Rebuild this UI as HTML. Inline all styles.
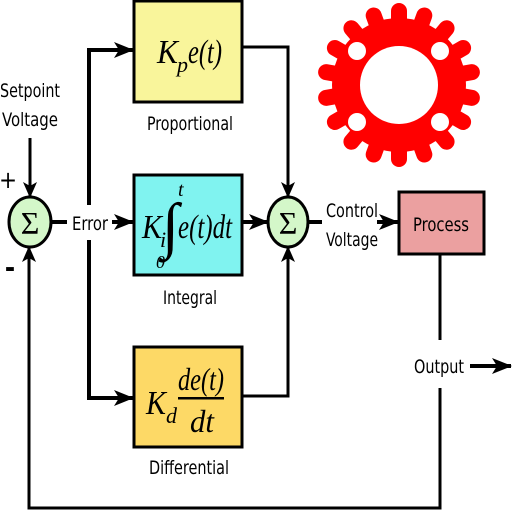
<!DOCTYPE html>
<html><head><meta charset="utf-8"><style>
html,body{margin:0;padding:0;background:#fff;}
svg{display:block;}
.l text{font-family:"DejaVu Sans Condensed","DejaVu Sans","Liberation Sans",sans-serif;font-stretch:condensed;font-size:19px;}
.m text{font-family:"Liberation Serif","DejaVu Serif",serif;font-style:italic;}
</style></head><body>
<svg width="512" height="512" viewBox="0 0 512 512" xmlns="http://www.w3.org/2000/svg">
<defs>
<marker id="a" markerWidth="20" markerHeight="16" refX="19" refY="8" orient="auto" markerUnits="userSpaceOnUse" viewBox="0 0 20 16"><path d="M0,0 L20,8 L0,16 L5,8z" fill="#000"/></marker>
<marker id="b" markerWidth="16" markerHeight="14" refX="15" refY="7" orient="auto" markerUnits="userSpaceOnUse" viewBox="0 0 16 14"><path d="M0,0 L16,7 L0,14 L4,7z" fill="#000"/></marker>
</defs>
<!-- gear -->
<g transform="translate(399,85)" fill="#f00">
<circle r="67"/>
<g id="t"><rect x="-8" y="-82" width="16" height="26" rx="8"/></g>
<use href="#t" transform="rotate(20)"/><use href="#t" transform="rotate(40)"/><use href="#t" transform="rotate(60)"/><use href="#t" transform="rotate(80)"/><use href="#t" transform="rotate(100)"/><use href="#t" transform="rotate(120)"/><use href="#t" transform="rotate(140)"/><use href="#t" transform="rotate(160)"/><use href="#t" transform="rotate(180)"/><use href="#t" transform="rotate(200)"/><use href="#t" transform="rotate(220)"/><use href="#t" transform="rotate(240)"/><use href="#t" transform="rotate(260)"/><use href="#t" transform="rotate(280)"/><use href="#t" transform="rotate(300)"/><use href="#t" transform="rotate(320)"/><use href="#t" transform="rotate(340)"/>
<circle r="39" fill="#fff"/>
<circle cx="-42" cy="-34" r="9" fill="#fff"/><circle cx="41" cy="-34" r="9" fill="#fff"/>
<circle cx="-42" cy="37" r="9" fill="#fff"/><circle cx="41" cy="37" r="9" fill="#fff"/>
</g>
<!-- boxes -->
<rect x="134" y="1" width="108" height="101" fill="#f9f59b" stroke="#000" stroke-width="3"/>
<rect x="134" y="175" width="108" height="100" fill="#80f3f0" stroke="#000" stroke-width="3"/>
<rect x="134" y="347" width="108" height="100" fill="#fdd966" stroke="#000" stroke-width="3"/>
<rect x="399" y="192" width="85" height="62" fill="#eba0a0" stroke="#000" stroke-width="3"/>
<ellipse cx="30" cy="222" rx="21" ry="25" fill="#d4f7c9" stroke="#000" stroke-width="3"/>
<ellipse cx="288" cy="222" rx="20" ry="25" fill="#d4f7c9" stroke="#000" stroke-width="3"/>
<g class="m"><text x="30" y="234" font-size="32" text-anchor="middle" style="font-style:normal">Σ</text>
<text x="288" y="234" font-size="32" text-anchor="middle" style="font-style:normal">Σ</text></g>
<!-- lines -->
<g stroke="#000" stroke-width="4" fill="none">
<path d="M51,222 H67"/>
<path d="M112,222 H133" marker-end="url(#a)"/>
<path d="M89,205 V50 H133" marker-end="url(#a)"/>
<path d="M89,240 V398 H133" marker-end="url(#a)"/>
<path d="M242,222 H268" marker-end="url(#a)"/>
<path d="M242,47 H288 V197" stroke-width="3" marker-end="url(#b)"/>
<path d="M242,396 H288 V247" stroke-width="3" marker-end="url(#b)"/>
<path d="M309,222 H322"/>
<path d="M377,222 H398" marker-end="url(#a)"/>
<path d="M30,138 V197" stroke-width="3" marker-end="url(#b)"/>
<path d="M440,254 V340" stroke-width="3"/>
<path d="M440,388 V508 H29 V247" stroke-width="3" marker-end="url(#b)"/>
<path d="M470,366 H511" marker-end="url(#a)"/>
</g>
<!-- labels -->
<g class="l" text-anchor="middle" fill="#000">
<text x="30" y="97" textLength="60" lengthAdjust="spacingAndGlyphs">Setpoint</text>
<text x="30" y="126" textLength="56" lengthAdjust="spacingAndGlyphs">Voltage</text>
<text x="90" y="230" textLength="36" lengthAdjust="spacingAndGlyphs">Error</text>
<text x="190" y="130" textLength="86" lengthAdjust="spacingAndGlyphs">Proportional</text>
<text x="190" y="304" textLength="54" lengthAdjust="spacingAndGlyphs">Integral</text>
<text x="189" y="474" textLength="80" lengthAdjust="spacingAndGlyphs">Differential</text>
<text x="352" y="217" textLength="52" lengthAdjust="spacingAndGlyphs">Control</text>
<text x="352" y="246" textLength="52" lengthAdjust="spacingAndGlyphs">Voltage</text>
<text x="441" y="231" textLength="56" lengthAdjust="spacingAndGlyphs">Process</text>
<text x="439" y="373" textLength="50" lengthAdjust="spacingAndGlyphs">Output</text>
<text x="8" y="188" style="font-size:24px">+</text>
<text x="10" y="277" style="font-size:28px;font-weight:bold">-</text>
</g>
<!-- math -->
<g class="m" fill="#000">
<text x="157" y="63" font-size="34" textLength="21" lengthAdjust="spacingAndGlyphs">K</text><text x="177" y="72" font-size="22">p</text><text x="188" y="63" font-size="34" textLength="34" lengthAdjust="spacingAndGlyphs">e(t)</text>
<text x="142" y="238" font-size="34" textLength="20" lengthAdjust="spacingAndGlyphs">K</text><text x="160" y="247" font-size="22">i</text>
<text x="162" y="246" font-size="62" style="font-style:normal">∫</text>
<text x="178" y="196" font-size="20">t</text><text x="156" y="268" font-size="18">0</text>
<text x="178" y="238" font-size="34" textLength="54" lengthAdjust="spacingAndGlyphs">e(t)dt</text>
<text x="146" y="414" font-size="34" textLength="20" lengthAdjust="spacingAndGlyphs">K</text><text x="166" y="423" font-size="22">d</text>
<text x="178" y="390" font-size="32" textLength="46" lengthAdjust="spacingAndGlyphs">de(t)</text>
<rect x="178" y="397" width="46" height="2.5" fill="#000"/>
<text x="190" y="432" font-size="32" textLength="24" lengthAdjust="spacingAndGlyphs">dt</text>
</g>
</svg>
</body></html>
